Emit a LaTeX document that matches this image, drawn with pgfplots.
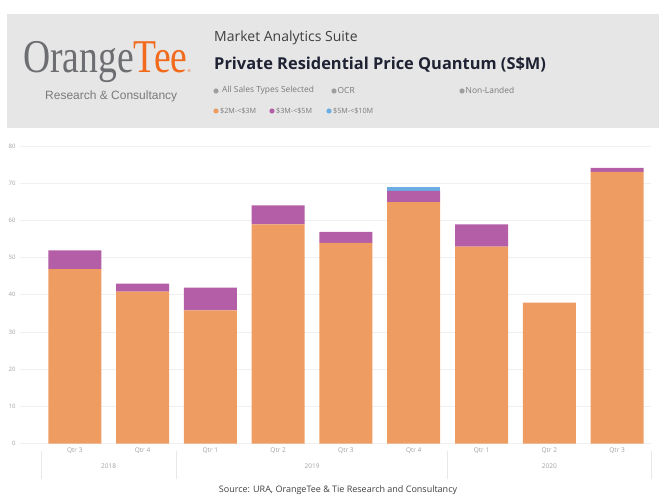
\documentclass[border=0pt]{standalone}
\usepackage{fontspec}
\setmainfont{Open Sans}
\newfontfamily\logofont{Liberation Serif}
\newfontfamily\arialfont{Liberation Sans}
\usepackage{pgfplots}
\pgfplotsset{compat=1.18}
\usepackage{graphicx}
\definecolor{orng}{HTML}{EE9C62}
\definecolor{purp}{HTML}{B35EA6}
\definecolor{blu}{HTML}{6CADE3}
\definecolor{hdrbg}{HTML}{E6E6E6}
\definecolor{logogray}{HTML}{6D6E71}
\definecolor{logoorange}{HTML}{F26B1D}
\definecolor{titlecol}{HTML}{1F2233}
\definecolor{subcol}{HTML}{404040}
\definecolor{smallgray}{HTML}{7A7A7A}
\definecolor{tickgray}{HTML}{A0A0A0}
\definecolor{gridcol}{HTML}{F0F0F0}
\definecolor{sepcol}{HTML}{E8E8E8}
\begin{document}
\begin{tikzpicture}[x=1pt,y=1pt]
\useasboundingbox (0,0) rectangle (659,496);
% header
\fill[hdrbg] (7,368) rectangle (659,482);
\node[anchor=base west,inner sep=0pt] at (23,423)
  {\scalebox{0.8}[1]{\fontsize{47}{50}\selectfont\logofont\color{logogray}Orange\color{logoorange}Tee}\raisebox{0pt}{\fontsize{4}{4}\selectfont\color{logoorange}\textregistered}};
\node[anchor=base west,inner sep=0pt] at (45,396)
  {\fontsize{12}{14}\selectfont\arialfont\color{smallgray}Research \& Consultancy};
\node[anchor=base west,inner sep=0pt] at (214,454)
  {\fontsize{14}{16}\selectfont\color{subcol}Market Analytics Suite};
\node[anchor=base west,inner sep=0pt] at (214,426)
  {\fontsize{16.4}{18}\selectfont\bfseries\color{titlecol}Private Residential Price Quantum (S\$M)};
% filter row
\fill[gray!75] (216,405) circle (2.6);
\node[anchor=west,inner sep=0pt] at (222,405.5) {\fontsize{8.4}{9}\selectfont\color{smallgray}All Sales Types Selected};
\fill[gray!75] (334,405) circle (2.6);
\node[anchor=west,inner sep=0pt] at (337.5,405.5) {\fontsize{8.4}{9}\selectfont\color{smallgray}OCR};
\fill[gray!75] (462,405) circle (2.6);
\node[anchor=west,inner sep=0pt] at (465.5,405.5) {\fontsize{8.4}{9}\selectfont\color{smallgray}Non-Landed};
% legend row
\fill[orng] (216,385) circle (2.6);
\node[anchor=west,inner sep=0pt] at (220,385.3) {\fontsize{7.2}{8}\selectfont\color{smallgray}\$2M-<\$3M};
\fill[purp] (272,385) circle (2.6);
\node[anchor=west,inner sep=0pt] at (276,385.3) {\fontsize{7.2}{8}\selectfont\color{smallgray}\$3M-<\$5M};
\fill[blu] (329,385) circle (2.6);
\node[anchor=west,inner sep=0pt] at (333,385.3) {\fontsize{7.2}{8}\selectfont\color{smallgray}\$5M-<\$10M};
% chart
\begin{axis}[
  at={(20pt,52.5pt)}, anchor=south west,
  scale only axis, width=631pt, height=297.6pt,
  xmin=-0.808, xmax=8.5, ymin=0, ymax=80,
  ybar stacked, bar width=53pt,
  axis line style={draw=none},
  major tick length=0pt,
  ymajorgrids, grid style={color=gridcol, line width=0.8pt},
  ytick={0,10,...,80},
  yticklabel style={font=\fontsize{6}{7}\selectfont, color=tickgray, xshift=-1pt},
  /pgf/number format/assume math mode=true,
  xtick={0,...,8},
  xticklabels={Qtr 3,Qtr 4,Qtr 1,Qtr 2,Qtr 3,Qtr 4,Qtr 1,Qtr 2,Qtr 3},
  xticklabel style={font=\fontsize{6.5}{8}\selectfont, color=tickgray, yshift=-1pt},
  clip=false,
]
\addplot[fill=orng, draw=none] coordinates {(0,46.9) (1,40.8) (2,35.8) (3,58.9) (4,53.9) (5,64.9) (6,52.9) (7,37.9) (8,73.0)};
\addplot[fill=purp, draw=none] coordinates {(0,5.0) (1,2.2) (2,6.1) (3,5.1) (4,3.0) (5,3.0) (6,6.0) (7,0) (8,1.1)};
\addplot[fill=blu, draw=none] coordinates {(0,0) (1,0) (2,0) (3,0) (4,0) (5,1.1) (6,0) (7,0) (8,0)};
\draw[sepcol, line width=0.6pt] ([yshift=-7pt]axis cs:-0.5,0) -- ([yshift=-35pt]axis cs:-0.5,0);
\draw[sepcol, line width=0.6pt] ([yshift=-7pt]axis cs:1.5,0) -- ([yshift=-35pt]axis cs:1.5,0);
\draw[sepcol, line width=0.6pt] ([yshift=-7pt]axis cs:5.5,0) -- ([yshift=-35pt]axis cs:5.5,0);
\draw[sepcol, line width=0.6pt] ([yshift=-7pt]axis cs:8.5,0) -- ([yshift=-35pt]axis cs:8.5,0);
\node[font=\fontsize{6.5}{8}\selectfont, text=tickgray] at ([yshift=-22.5pt]axis cs:0.5,0) {2018};
\node[font=\fontsize{6.5}{8}\selectfont, text=tickgray] at ([yshift=-22.5pt]axis cs:3.5,0) {2019};
\node[font=\fontsize{6.5}{8}\selectfont, text=tickgray] at ([yshift=-22.5pt]axis cs:7,0) {2020};
\end{axis}
% source
\node[inner sep=0pt] at (338,6) {\fontsize{9}{10}\selectfont\color{subcol}Source: URA, OrangeTee \& Tie Research and Consultancy};
\end{tikzpicture}
\end{document}
